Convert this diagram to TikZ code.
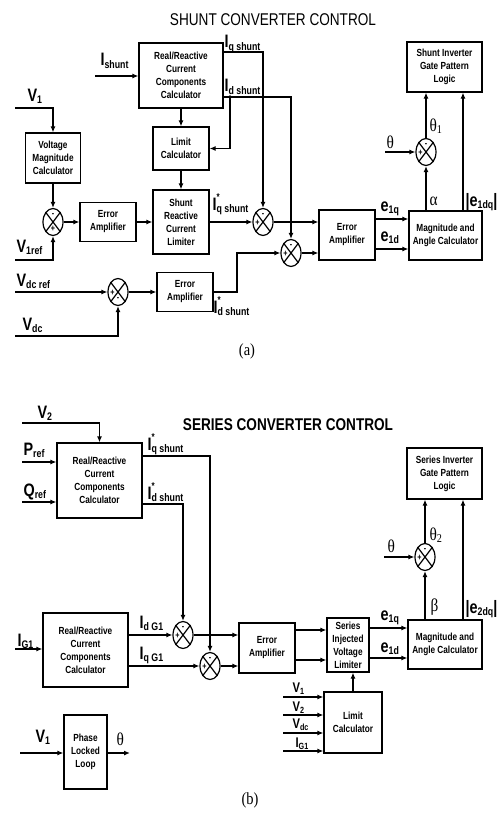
\documentclass[tikz,border=0pt]{standalone}
\usepackage{fontspec}
\setmainfont{Liberation Sans}[FakeStretch=0.8]
\newfontfamily\grk{Liberation Serif}[FakeStretch=0.85]
\usetikzlibrary{arrows.meta,shapes.geometric}
\newcommand\Lb[2]{{\bfseries\fontsize{18}{18}\selectfont #1\raisebox{-0.3ex}{\fontsize{11}{11}\selectfont #2}}}
\newcommand\Ls[2]{{\bfseries\fontsize{18}{18}\selectfont #1\rlap{\raisebox{0.95ex}{\fontsize{10}{10}\selectfont *}}\raisebox{-0.3ex}{\fontsize{11}{11}\selectfont #2}}}
\newcommand\Lm[2]{{\bfseries\fontsize{14}{14}\selectfont #1\raisebox{-0.3ex}{\fontsize{9}{9}\selectfont #2}}}
\newcommand\Gk[2]{{\grk\fontsize{18}{18}\selectfont #1\raisebox{-0.3ex}{\fontsize{12}{12}\selectfont #2}}}
\newcommand\SumJ[3]{\node[sj] (#1) at (#2,#3) {}; \draw (#1.north east) -- (#1.south west) (#1.north west) -- (#1.south east);}
\newcommand\SgnTL[1]{\node[sgn] at ([yshift=7pt]#1.center) {-}; \node[sgn] at ([xshift=-5.5pt,yshift=-1pt]#1.center) {+};}
\begin{document}
\begin{tikzpicture}[x=1pt,y=-1pt,line width=1.2pt,>={Latex[length=6pt,width=5pt]},
  blk/.style={draw,line width=1.2pt,align=center,inner sep=0pt,font=\bfseries\fontsize{10.3}{13}\selectfont},
  sj/.style={ellipse,draw,line width=1.2pt,minimum width=20pt,minimum height=27pt,inner sep=0pt},
  lab/.style={anchor=base west,inner sep=0pt},
  sgn/.style={inner sep=0pt,font=\bfseries\fontsize{9}{9}\selectfont}]
\useasboundingbox[fill=white] (0,0) rectangle (497,816);

% ---------------- (a) ----------------
\node (ta) at (273,20) {\fontsize{17}{17}\selectfont SHUNT CONVERTER CONTROL};
\node[blk,minimum width=84pt,minimum height=65pt] (rr1) at (181,75.5) {Real/Reactive\\Current\\Components\\Calculator};
\node[blk,minimum width=55pt,minimum height=50pt] (vm) at (53,158) {Voltage\\Magnitude\\Calculator};
\node[blk,minimum width=56pt,minimum height=43pt] (lim) at (181,148.5) {Limit\\Calculator};
\node[blk,minimum width=56pt,minimum height=64pt] (srcl) at (181,222) {Shunt\\Reactive\\Current\\Limiter};
\node[blk,minimum width=56pt,minimum height=39pt] (ea1) at (108,222) {Error\\Amplifier};
\node[blk,minimum width=56pt,minimum height=39pt] (ea2) at (185,292) {Error\\Amplifier};
\node[blk,minimum width=56pt,minimum height=50pt] (ea3) at (347,235) {Error\\Amplifier};
\node[blk,minimum width=73pt,minimum height=49pt] (mac1) at (445.5,235.5) {Magnitude and\\Angle Calculator};
\node[blk,minimum width=75pt,minimum height=50pt] (sg1) at (444.5,67) {Shunt Inverter\\Gate Pattern\\Logic};

\SumJ{j0}{53}{222}
\node[sgn] at ([yshift=7pt]j0.center) {-}; \node[sgn] at ([yshift=-7pt]j0.center) {+};
\SumJ{j3}{118}{292}
\node[sgn] at ([xshift=-5.5pt,yshift=-1pt]j3.center) {+}; \node[sgn] at ([yshift=-7pt]j3.center) {-};
\SumJ{j1}{263}{222}\SgnTL{j1}
\SumJ{j2}{291}{253}\SgnTL{j2}
\SumJ{s1}{426}{152}\SgnTL{s1}

\coordinate (ishIn) at (95,76);
\draw[->] (ishIn) -- (ishIn -| rr1.west);
\coordinate (v1In) at (15,108);
\draw[->] (v1In) -| (vm.north);
\draw[->] (vm.south) -- (j0.north);
\coordinate (v1rIn) at (15,260);
\draw[->] (v1rIn) -| (j0.south);
\draw[->] (j0.east) -- (ea1.west);
\draw[->] (ea1.east) -- (srcl.west);
\draw[->] (rr1.south -| lim.north) -- (lim.north);
\draw[->] (lim.south) -- (srcl.north);
\coordinate (idA) at ([yshift=-21.5pt]rr1.east);
\coordinate (idDot) at (230,97);
\draw[->] (idA) -| (j2.north);
\fill (idDot) circle (1.8pt);
\draw[->] (idDot) |- (lim.east);
\coordinate (iqA) at ([yshift=23.5pt]rr1.east);
\draw[->] (iqA) -| (j1.north);
\draw[->] (srcl.east) -- (j1.west);
\draw[->] (j1.east) -- (j1.east -| ea3.west);
\coordinate (bnd) at (237,292);
\draw[->] (ea2.east) -- (bnd) |- (j2.west);
\draw[->] (j2.east) -- (j2.east -| ea3.west);
\coordinate (vdrIn) at (15,292);
\draw[->] (vdrIn) -- (j3.west);
\coordinate (vdIn) at (15,336);
\draw[->] (vdIn) -| (j3.south);
\draw[->] (j3.east) -- (ea2.west);
\coordinate (eqA) at ([yshift=16pt]ea3.east);
\coordinate (edA) at ([yshift=-14pt]ea3.east);
\draw[->] (eqA) -- (eqA -| mac1.west);
\draw[->] (edA) -- (edA -| mac1.west);
\draw[->] (mac1.north -| s1.south) -- (s1.south);
\draw[->] (s1.north) -- (s1.north |- sg1.south);
\coordinate (m1) at (463,0);
\draw[->] (mac1.north -| m1) -- (sg1.south -| m1);
\coordinate (thA) at (385,152);
\draw[->] (thA) -- (s1.west);

\node[lab] at (100,66) {\Lb{I}{shunt}};
\node[lab] at (27,101) {\Lb{V}{1}};
\node[lab] at (224,48) {\Lb{I}{q shunt}};
\node[lab] at (224,92) {\Lb{I}{d shunt}};
\node[lab] at (212,210) {\Ls{I}{q shunt}};
\node[lab] at (213,313) {\Ls{I}{d shunt}};
\node[lab] at (16,252) {\Lb{V}{1ref}};
\node[lab] at (16,286) {\Lb{V}{dc ref}};
\node[lab] at (22,330) {\Lb{V}{dc}};
\node[lab] at (386,148) {\Gk{θ}{}};
\node[lab] at (429,131) {\Gk{θ}{1}};
\node[lab] at (429,205) {\Gk{α}{}};
\node[lab] at (465,206) {\Lb{|e}{1dq}{\bfseries\fontsize{18}{18}\selectfont|}};
\node[lab] at (380,211) {\Lb{e}{1q}};
\node[lab] at (380,241) {\Lb{e}{1d}};
\node (capa) at (247,351) {\grk\fontsize{17}{17}\selectfont (a)};

% ---------------- (b) ----------------
\node (tb) at (288,425) {\bfseries\fontsize{17}{17}\selectfont SERIES CONVERTER CONTROL};
\node[blk,minimum width=85pt,minimum height=75pt] (rr2) at (99.5,480.5) {Real/Reactive\\Current\\Components\\Calculator};
\node[blk,minimum width=85pt,minimum height=74pt] (rr3) at (85.5,650) {Real/Reactive\\Current\\Components\\Calculator};
\node[blk,minimum width=56pt,minimum height=50pt] (ea4) at (267,648) {Error\\Amplifier};
\node[blk,minimum width=42pt,minimum height=54pt] (sivl) at (348,645) {Series\\Injected\\Voltage\\Limiter};
\node[blk,minimum width=74pt,minimum height=49pt] (mac2) at (445,644.5) {Magnitude and\\Angle Calculator};
\node[blk,minimum width=58pt,minimum height=61pt] (lim2) at (353,722.5) {Limit\\Calculator};
\node[blk,minimum width=43pt,minimum height=74pt] (pll) at (85.5,752) {Phase\\Locked\\Loop};
\node[blk,minimum width=75pt,minimum height=51pt] (sg2) at (444.5,473.5) {Series Inverter\\Gate Pattern\\Logic};

\SumJ{j4}{183}{635}\SgnTL{j4}
\SumJ{j5}{210}{666}\SgnTL{j5}
\SumJ{s2}{425}{557}\SgnTL{s2}

\coordinate (v2In) at (22,423);
\draw[->] (v2In) -| (rr2.north);
\coordinate (pIn) at (22,462);
\draw[->] (pIn) -- (pIn -| rr2.west);
\coordinate (qIn) at (22,502);
\draw[->] (qIn) -- (qIn -| rr2.west);
\coordinate (iqB) at ([yshift=24.5pt]rr2.east);
\draw[->] (iqB) -| (j5.north);
\coordinate (idB) at ([yshift=-23.5pt]rr2.east);
\draw[->] (idB) -| (j4.north);
\coordinate (igIn) at (15,649);
\draw[->] (igIn) -- (igIn -| rr3.west);
\coordinate (idG) at ([yshift=15pt]rr3.east);
\draw[->] (idG) -- (j4.west);
\coordinate (iqG) at ([yshift=-16pt]rr3.east);
\draw[->] (iqG) -- (j5.west);
\draw[->] (j4.east) -- (j4.east -| ea4.west);
\draw[->] (j5.east) -- (j5.east -| ea4.west);
\coordinate (eaA) at ([yshift=18pt]ea4.east);
\coordinate (eaB) at ([yshift=-12pt]ea4.east);
\draw[->] (eaA) -- (eaA -| sivl.west);
\draw[->] (eaB) -- (eaB -| sivl.west);
\coordinate (svA) at ([yshift=17pt]sivl.east);
\coordinate (svB) at ([yshift=-13pt]sivl.east);
\draw[->] (svA) -- (svA -| mac2.west);
\draw[->] (svB) -- (svB -| mac2.west);
\draw[->] (lim2.north) -- (lim2.north |- sivl.south);
\foreach \yy/\nm in {697/a,715/b,733/c,751/d}{
  \coordinate (li\nm) at (283,\yy);
  \draw[->] (li\nm) -- (li\nm -| lim2.west);
}
\coordinate (pllIn) at (20,753);
\draw[->] (pllIn) -- (pllIn -| pll.west);
\coordinate (pllOut) at (130,753);
\draw[->] (pllOut -| pll.east) -- (pllOut);
\draw[->] (mac2.north -| s2.south) -- (s2.south);
\draw[->] (s2.north) -- (s2.north |- sg2.south);
\draw[->] (mac2.north -| m1) -- (sg2.south -| m1);
\coordinate (thB) at (384,557);
\draw[->] (thB) -- (s2.west);

\node[lab] at (37,418) {\Lb{V}{2}};
\node[lab] at (23,455) {\Lb{P}{ref}};
\node[lab] at (23,496) {\Lb{Q}{ref}};
\node[lab] at (147,450) {\Ls{I}{q shunt}};
\node[lab] at (147,499) {\Ls{I}{d shunt}};
\node[lab] at (17,646) {\Lb{I}{G1}};
\node[lab] at (139,628) {\Lb{I}{d G1}};
\node[lab] at (139,659) {\Lb{I}{q G1}};
\node[lab] at (35,742) {\Lb{V}{1}};
\node[lab] at (116,745) {\Gk{θ}{}};
\node[lab] at (387,552) {\Gk{θ}{}};
\node[lab] at (429,540) {\Gk{θ}{2}};
\node[lab] at (430,611) {\Gk{β}{}};
\node[lab] at (465,613) {\Lb{|e}{2dq}{\bfseries\fontsize{18}{18}\selectfont|}};
\node[lab] at (380,620) {\Lb{e}{1q}};
\node[lab] at (380,652) {\Lb{e}{1d}};
\node[lab] at (292,692) {\Lm{V}{1}};
\node[lab] at (292,711) {\Lm{V}{2}};
\node[lab] at (292,728) {\Lm{V}{dc}};
\node[lab] at (295,747) {\Lm{I}{G1}};
\node (capb) at (250,800) {\grk\fontsize{17}{17}\selectfont (b)};
\end{tikzpicture}
\end{document}
